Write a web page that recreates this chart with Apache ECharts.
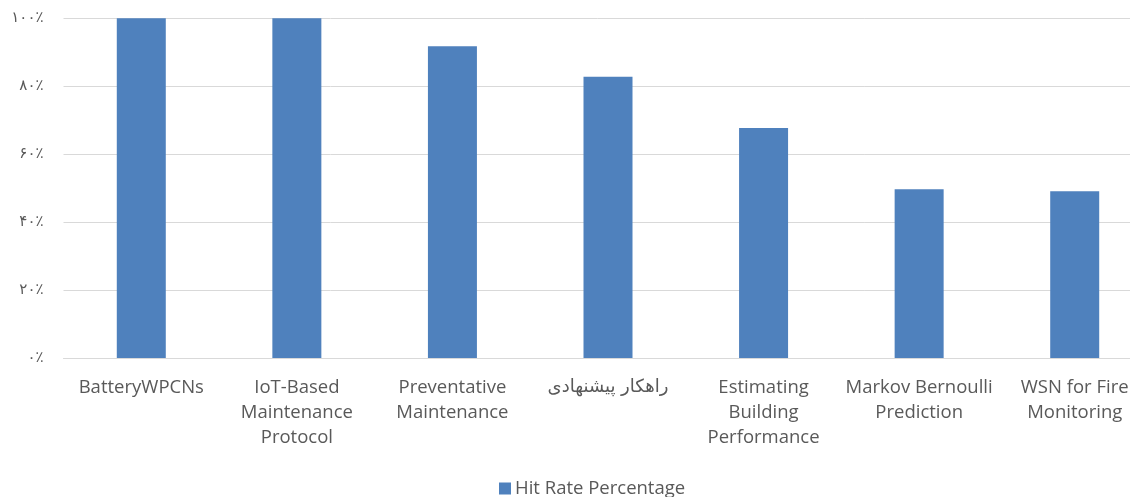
<!DOCTYPE html>
<html>
<head>
<meta charset="utf-8">
<style>
  html, body { margin: 0; padding: 0; background: #ffffff; }
  #chart { width: 1130px; height: 497px; }
</style>
<script src="https://cdn.jsdelivr.net/npm/echarts@6/dist/echarts.min.js"></script>
</head>
<body>
<div id="chart"></div>
<script>
// Methods compared, one bar each
const categories = [
  'BatteryWPCNs',
  'IoT-Based\nMaintenance\nProtocol',
  'Preventative\nMaintenance',
  'راهکار پیشنهادی',
  'Estimating\nBuilding\nPerformance',
  'Markov Bernoulli\nPrediction',
  'WSN for Fire\nMonitoring'
];

// Hit rate in percent
const hitRate = [100, 100, 91.8, 82.8, 67.7, 49.7, 49.1];

// Value axis ticks and their Persian labels
const yTicks = [0, 20, 40, 60, 80, 100];
const yTickLabels = ['۰٪', '۲۰٪', '۴۰٪', '۶۰٪', '۸۰٪', '۱۰۰٪'];

const seriesName = 'Hit Rate Percentage';

const textFont = '"Open Sans", Lato, "DejaVu Sans", sans-serif';
const persianFont = '"DejaVu Sans", "Noto Sans", sans-serif';

// Category labels in Arabic script get their own text style
const hasArabic = (s) => /[\u0600-\u06FF]/.test(s);

const chart = echarts.init(document.getElementById('chart'), null, { renderer: 'canvas' });

chart.setOption({
  backgroundColor: '#ffffff',
  animation: false,
  grid: {
    left: 63.5,
    width: 1089,
    top: 18.3,
    bottom: 139,
    containLabel: false,
    outerBoundsMode: 'none'
  },
  legend: {
    data: [seriesName],
    left: 494,
    top: 474,
    icon: 'rect',
    itemWidth: 12,
    itemHeight: 12,
    itemGap: 4,
    textStyle: {
      color: '#595959',
      fontSize: 18.5,
      fontFamily: textFont,
      padding: [0, 0, 0, -1]
    }
  },
  xAxis: {
    type: 'category',
    data: categories,
    axisLine: { show: true, lineStyle: { color: '#d9d9d9', width: 1 } },
    axisTick: { show: false },
    axisLabel: {
      interval: 0,
      margin: 17,
      color: '#595959',
      fontSize: 18.5,
      lineHeight: 25,
      fontFamily: textFont,
      formatter: function (v) {
        return hasArabic(v) ? '{fa|' + v + '}' : v;
      },
      rich: {
        fa: {
          fontFamily: persianFont,
          fontSize: 18,
          color: '#595959',
          lineHeight: 25
        }
      }
    },
    splitLine: { show: false }
  },
  yAxis: {
    type: 'value',
    min: yTicks[0],
    max: yTicks[yTicks.length - 1],
    interval: yTicks[1] - yTicks[0],
    axisLine: { show: false },
    axisTick: { show: false },
    axisLabel: {
      margin: 20,
      color: '#595959',
      fontSize: 15,
      fontFamily: persianFont,
      formatter: function (v) {
        const i = yTicks.indexOf(v);
        return i >= 0 ? yTickLabels[i] : '';
      }
    },
    splitLine: { show: true, lineStyle: { color: '#d9d9d9', width: 1 } }
  },
  series: [{
    name: seriesName,
    type: 'bar',
    data: hitRate,
    barWidth: 49,
    itemStyle: { color: '#4f81bd' }
  }]
});
</script>
</body>
</html>
